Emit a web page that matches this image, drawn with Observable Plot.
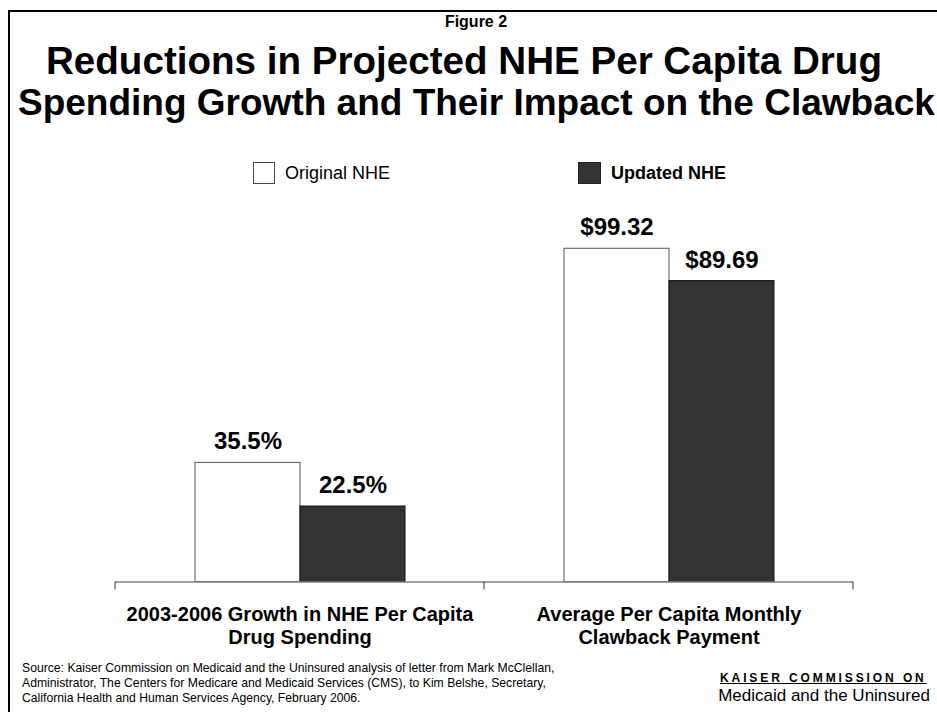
<!DOCTYPE html>
<html>
<head>
<meta charset="utf-8">
<script src="https://cdn.jsdelivr.net/npm/d3@7"></script>
<script src="https://cdn.jsdelivr.net/npm/@observablehq/plot@0.6"></script>
<style>
  html, body { margin: 0; padding: 0; background: #fff; }
  #page { position: relative; width: 937px; height: 712px; overflow: hidden; font-family: "Liberation Sans", Arial, sans-serif; color: #000; }
  .abs { position: absolute; white-space: nowrap; }
  #border { position: absolute; left: 8px; top: 10px; width: 940px; height: 720px; border-left: 2px solid #000; border-top: 2px solid #000; box-sizing: border-box; }
  #chart { position: absolute; left: 0; top: 200px; }
</style>
</head>
<body>
<div id="page">
  <div id="border"></div>
  <div class="abs" style="left:0;width:952px;top:13px;text-align:center;font-weight:bold;font-size:16px;line-height:18px;">Figure 2</div>
  <div class="abs" style="left:0;width:928px;top:40px;text-align:center;font-weight:bold;font-size:38.6px;line-height:42px;">Reductions in Projected NHE Per Capita Drug</div>
  <div class="abs" style="left:18px;top:82px;text-align:left;font-weight:bold;font-size:37px;line-height:42px;">Spending Growth and Their Impact on the Clawback</div>

  <div class="abs" style="left:253px;top:162px;width:20px;height:20px;border:1px solid #444;background:#fff;"></div>
  <div class="abs" style="left:285px;top:162px;font-size:18px;line-height:22px;">Original NHE</div>
  <div class="abs" style="left:578px;top:162px;width:21px;height:20px;border:1px solid #222;background:#333;"></div>
  <div class="abs" style="left:611px;top:162px;font-size:18px;line-height:22px;font-weight:bold;">Updated NHE</div>

  <div id="chart"></div>

  <div class="abs" style="left:22px;top:661px;font-size:12.2px;line-height:15px;">Source: Kaiser Commission on Medicaid and the Uninsured analysis of letter from Mark McClellan,<br>Administrator, The Centers for Medicare and Medicaid Services (CMS), to Kim Belshe, Secretary,<br>California Health and Human Services Agency, February 2006.</div>
  <div class="abs" style="left:720px;top:671px;font-size:12px;line-height:14px;font-weight:bold;letter-spacing:2.9px;text-decoration:underline;">KAISER COMMISSION ON</div>
  <div class="abs" style="left:716px;top:686px;width:216px;text-align:center;font-size:17px;line-height:20px;">Medicaid and the Uninsured</div>
</div>
<script>
const categories = ["2003-2006 Growth in NHE Per Capita\nDrug Spending", "Average Per Capita Monthly\nClawback Payment"];
const series = ["Original NHE", "Updated NHE"];
const originalValues = [35.5, 99.32];
const updatedValues = [22.5, 89.69];
const valueFormats = [v => v.toFixed(1) + "%", v => "$" + v.toFixed(2)];

const data = [];
categories.forEach((c, i) => {
  data.push({category: c, series: series[0], value: originalValues[i], label: valueFormats[i](originalValues[i])});
  data.push({category: c, series: series[1], value: updatedValues[i], label: valueFormats[i](updatedValues[i])});
});

const W = 937, H = 460;
const chart = Plot.plot({
  width: W,
  height: H,
  marginLeft: 114,
  marginRight: 84,
  marginTop: 46,
  marginBottom: 78.5,
  style: {fontFamily: "'Liberation Sans', Arial, sans-serif", background: "transparent", overflow: "visible"},
  fx: {domain: categories, padding: 0, axis: null},
  x: {domain: series, paddingInner: 0, paddingOuter: 0.743, align: 0.5, axis: null},
  y: {domain: [0, 100], axis: null},
  marks: [
    Plot.barY(data.filter(d => d.series === series[0]), {fx: "category", x: "series", y: "value", fill: "#ffffff", stroke: "#555", strokeWidth: 1}),
    Plot.barY(data.filter(d => d.series === series[1]), {fx: "category", x: "series", y: "value", fill: "#333333", stroke: "#111", strokeWidth: 1}),
    Plot.ruleY([0], {stroke: "#808080", strokeWidth: 1.5}),
    Plot.text(data, {fx: "category", x: "series", y: "value", text: "label", lineAnchor: "bottom", dy: -13.5, fontSize: 24, fontWeight: "bold", fill: "#000"}),
    Plot.text(categories, {fx: d => d, text: d => d, frameAnchor: "bottom", lineAnchor: "top", dy: 22.5, fontSize: 20, fontWeight: "bold", lineHeight: 1.15, fill: "#000"})
  ]
});
document.getElementById("chart").appendChild(chart);

// axis ticks at the category band boundaries, placed with Plot's own scales
const fx = chart.scale("fx");
const y = chart.scale("y");
const y0 = y.apply(0);
const bounds = [];
categories.forEach(c => { bounds.push(fx.apply(c)); });
bounds.push(fx.apply(categories[categories.length - 1]) + fx.bandwidth);
d3.select(chart).append("g")
  .selectAll("line").data(bounds).join("line")
  .attr("x1", d => d).attr("x2", d => d)
  .attr("y1", y0).attr("y2", y0 + 8)
  .attr("stroke", "#333").attr("stroke-width", 1);
</script>
</body>
</html>
